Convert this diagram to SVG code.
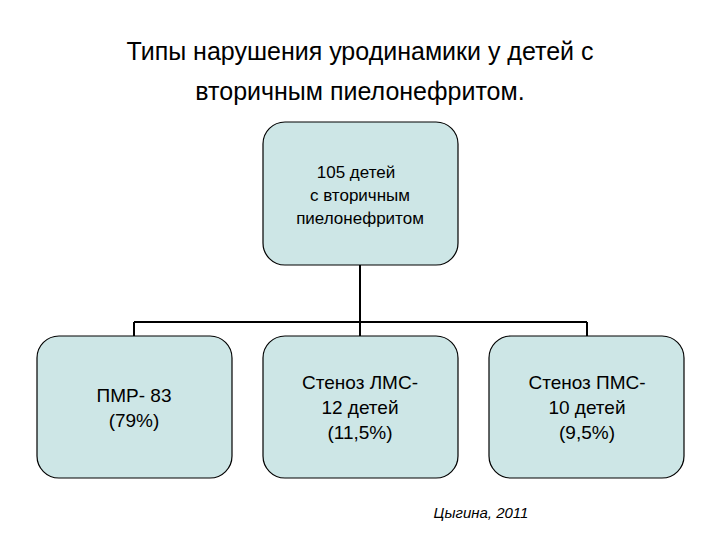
<svg xmlns="http://www.w3.org/2000/svg" width="720" height="540" viewBox="0 0 720 540">
<style>
.b{fill:#cde6e6;stroke:#000;stroke-width:1.2}
.t{font-family:"Liberation Sans",Arial,sans-serif;fill:#000;text-anchor:middle}
.c{stroke:#000;stroke-width:2;fill:none}
</style>
<rect width="720" height="540" fill="#fff"/>
<text class="t" font-size="25" x="360" y="60">Типы нарушения уродинамики у детей с</text>
<text class="t" font-size="25" x="360" y="100">вторичным пиелонефритом.</text>
<g id="connectors">
<path class="c" d="M360 265V322M134 322H587M134 322V336M360 322V336M587 322V336"/>
</g>
<g id="root"><rect class="b" x="263" y="122" width="195" height="143" rx="22"/>
<text class="t" font-size="17"><tspan x="356" y="178">105 детей</tspan><tspan x="360" y="201">с вторичным</tspan><tspan x="360" y="224">пиелонефритом</tspan></text></g>
<g id="pmr"><rect class="b" x="37" y="336" width="195" height="142" rx="22"/>
<text class="t" font-size="19"><tspan x="134" y="402">ПМР- 83</tspan><tspan x="134" y="427">(79%)</tspan></text></g>
<g id="lms"><rect class="b" x="263" y="336" width="195" height="142" rx="22"/>
<text class="t" font-size="19"><tspan x="360" y="389">Стеноз ЛМС-</tspan><tspan x="360" y="414">12 детей</tspan><tspan x="360" y="439">(11,5%)</tspan></text></g>
<g id="pms"><rect class="b" x="489" y="336" width="195" height="142" rx="22"/>
<text class="t" font-size="19"><tspan x="587" y="389">Стеноз ПМС-</tspan><tspan x="587" y="414">10 детей</tspan><tspan x="587" y="439">(9,5%)</tspan></text></g>
<text class="t" font-size="15" font-style="italic" x="481" y="518">Цыгина, 2011</text>
</svg>
